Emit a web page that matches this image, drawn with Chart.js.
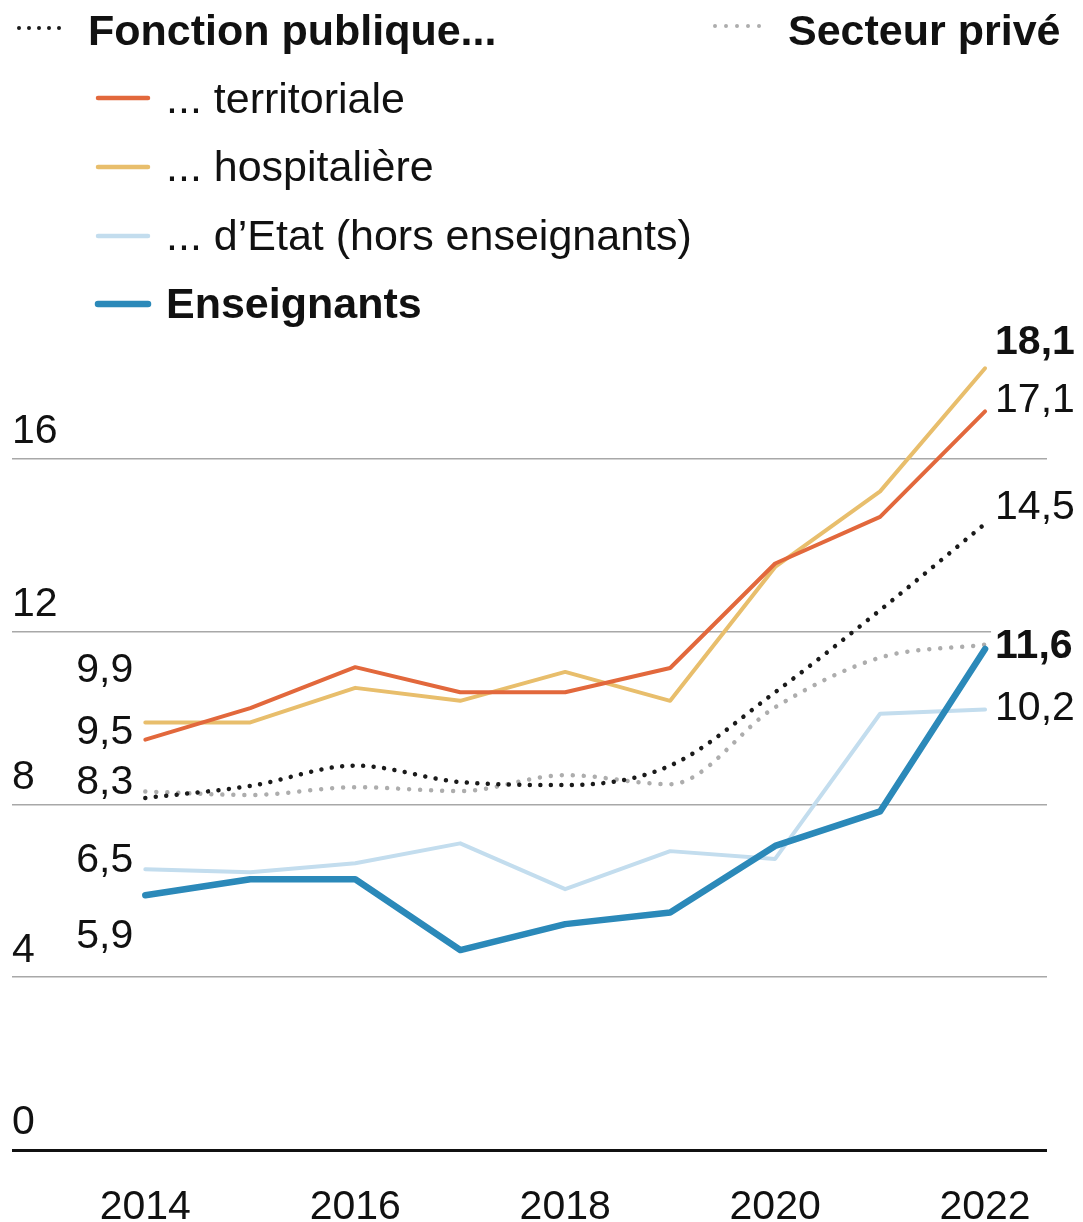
<!DOCTYPE html>
<html>
<head>
<meta charset="utf-8">
<script src="https://cdn.jsdelivr.net/npm/chart.js@4.4.1/dist/chart.umd.min.js"></script>
<style>
  html, body { margin: 0; padding: 0; background: #fff; }
  #wrap { position: relative; width: 1083px; height: 1222px; overflow: hidden; }
  #chart { position: absolute; left: 0; top: 0; }
  .leg { position: absolute; font-family: "Liberation Sans", Arial, sans-serif; color: #111; white-space: nowrap; line-height: 1; }
  .b { font-weight: bold; font-size: 43px; }
  .r { font-size: 43px; }
  .sw { position: absolute; }
</style>
</head>
<body>
<div id="wrap">
  <canvas id="chart" width="1083" height="1222"></canvas>

  <svg class="sw" style="left:14px;top:21px" width="60" height="14"><line x1="5" y1="7" x2="55" y2="7" stroke="#1a1a1a" stroke-width="4" stroke-linecap="round" stroke-dasharray="0 10"/></svg>
  <div class="leg b" style="left:88px;top:9px">Fonction publique...</div>

  <svg class="sw" style="left:710px;top:19px" width="56" height="14"><line x1="5" y1="7" x2="51" y2="7" stroke="#adadad" stroke-width="4" stroke-linecap="round" stroke-dasharray="0 11"/></svg>
  <div class="leg b" style="left:788px;top:9px">Secteur privé</div>

  <svg class="sw" style="left:94px;top:91px" width="58" height="14"><line x1="4" y1="7" x2="54" y2="7" stroke="#e2683c" stroke-width="4.5" stroke-linecap="round"/></svg>
  <div class="leg r" style="left:166px;top:77px">... territoriale</div>

  <svg class="sw" style="left:94px;top:160px" width="58" height="14"><line x1="4" y1="7" x2="54" y2="7" stroke="#e8be6c" stroke-width="4.5" stroke-linecap="round"/></svg>
  <div class="leg r" style="left:166px;top:145px">... hospitalière</div>

  <svg class="sw" style="left:94px;top:229px" width="58" height="14"><line x1="4" y1="7" x2="54" y2="7" stroke="#c3ddee" stroke-width="4.5" stroke-linecap="round"/></svg>
  <div class="leg r" style="left:166px;top:214px">... d’Etat (hors enseignants)</div>

  <svg class="sw" style="left:94px;top:297px" width="58" height="14"><line x1="4" y1="7" x2="54" y2="7" stroke="#2b89b9" stroke-width="6.5" stroke-linecap="round"/></svg>
  <div class="leg b" style="left:166px;top:282px">Enseignants</div>
</div>

<script>
// values
const years = [2014, 2015, 2016, 2017, 2018, 2019, 2020, 2021, 2022];
const fonctionPublique = [8.15, 8.43, 8.9, 8.52, 8.45, 8.9, 10.6, 12.5, 14.5];
const secteurPrive = [8.3, 8.22, 8.4, 8.31, 8.68, 8.47, 10.25, 11.4, 11.7];
const territoriale = [9.5, 10.23, 11.18, 10.6, 10.6, 11.16, 13.58, 14.66, 17.1];
const hospitaliere = [9.9, 9.9, 10.7, 10.4, 11.07, 10.4, 13.5, 15.25, 18.1];
const etatHorsEns = [6.5, 6.43, 6.64, 7.1, 6.04, 6.92, 6.74, 10.1, 10.2];
const enseignants = [5.9, 6.27, 6.27, 4.63, 5.23, 5.5, 7.04, 7.84, 11.6];

const yTicks = [0, 4, 8, 12, 16];
const xTicks = [2014, 2016, 2018, 2020, 2022];

// direct labels at both ends of the lines
const startLabels = [
  { text: "9,9", values: hospitaliere, dy: -52 },
  { text: "9,5", values: territoriale, dy: -7 },
  { text: "8,3", values: secteurPrive, dy: -9 },
  { text: "6,5", values: etatHorsEns, dy: -9 },
  { text: "5,9", values: enseignants, dy: 42 },
];
const endLabels = [
  { text: "18,1", values: hospitaliere, dy: -26, bold: true },
  { text: "17,1", values: territoriale, dy: -11 },
  { text: "14,5", values: fonctionPublique, dy: -16 },
  { text: "11,6", values: enseignants, dy: -2, bold: true },
  { text: "10,2", values: etatHorsEns, dy: -1 },
];

const FONT = '"Liberation Sans", Arial, sans-serif';

function pts(arr) {
  return years.map((y, i) => ({ x: y, y: arr[i] }));
}

const endLabelPlugin = {
  id: "endLabels",
  afterDatasetsDraw(chart) {
    const { ctx, scales } = chart;
    const x0 = scales.x.getPixelForValue(years[0]);
    const x1 = scales.x.getPixelForValue(years[years.length - 1]);
    const last = years.length - 1;
    ctx.save();
    ctx.textBaseline = "middle";

    const draw = (lab, idx, x, align) => {
      ctx.font = (lab.bold ? "bold " : "") + "41px " + FONT;
      const y = scales.y.getPixelForValue(lab.values[idx]) + lab.dy;
      const w = ctx.measureText(lab.text).width;
      const bx = align === "left" ? x - 4 : x - w - 4;
      ctx.fillStyle = "#fff";
      ctx.fillRect(bx, y - 20, w + 8, 40);
      ctx.fillStyle = "#111";
      ctx.textAlign = align;
      ctx.fillText(lab.text, x, y);
    };

    startLabels.forEach((l) => draw(l, 0, x0 - 12, "right"));
    endLabels.forEach((l) => draw(l, last, x1 + 10, "left"));
    ctx.restore();
  },
};

const dotted = (color, gap) => ({
  borderColor: color,
  borderWidth: 4.5,
  borderDash: [0.01, gap],
  borderCapStyle: "round",
  borderJoinStyle: "round",
  cubicInterpolationMode: "monotone",
});

const solid = (color, w) => ({
  borderColor: color,
  borderWidth: w,
  borderCapStyle: "round",
  borderJoinStyle: "round",
  tension: 0,
});

new Chart(document.getElementById("chart"), {
  type: "line",
  data: {
    datasets: [
      { label: "Enseignants", data: pts(enseignants), order: 0, ...solid("#2b89b9", 6.5) },
      { label: "... territoriale", data: pts(territoriale), order: 1, ...solid("#e2683c", 4) },
      { label: "... hospitalière", data: pts(hospitaliere), order: 2, ...solid("#e8be6c", 4) },
      { label: "... d’Etat (hors enseignants)", data: pts(etatHorsEns), order: 3, ...solid("#c3ddee", 4) },
      { label: "Fonction publique...", data: pts(fonctionPublique), order: 4, ...dotted("#1a1a1a", 10.5) },
      { label: "Secteur privé", data: pts(secteurPrive), order: 5, ...dotted("#adadad", 11) },
    ],
  },
  options: {
    responsive: false,
    animation: false,
    devicePixelRatio: 1,
    elements: { point: { radius: 0, hoverRadius: 0 } },
    layout: { padding: { left: 12, right: 36, top: 329.4, bottom: 0 } },
    plugins: { legend: { display: false }, tooltip: { enabled: false } },
    scales: {
      x: {
        type: "linear",
        min: 2012.73,
        max: 2022.59,
        afterBuildTicks: (s) => { s.ticks = xTicks.map((v) => ({ value: v })); },
        afterFit: (s) => { s.height = 72; },
        grid: { display: false, drawTicks: false },
        border: { display: false },
        ticks: {
          padding: 33,
          color: "#111",
          font: { family: FONT, size: 41 },
          callback: (v) => String(v),
          maxRotation: 0,
          autoSkip: false,
        },
      },
      y: {
        min: 0,
        max: 19,
        afterBuildTicks: (s) => { s.ticks = yTicks.map((v) => ({ value: v })); },
        border: { display: false },
        grid: {
          drawTicks: false,
          color: (c) => (c.tick && c.tick.value === 0 ? "#111" : "#a8a8a8"),
          lineWidth: (c) => (c.tick && c.tick.value === 0 ? 3 : 1.5),
        },
        ticks: {
          mirror: true,
          padding: 0,
          labelOffset: -27,
          color: "#111",
          font: { family: FONT, size: 41 },
          callback: (v) => String(v),
        },
      },
    },
  },
  plugins: [endLabelPlugin],
});
</script>
</body>
</html>
